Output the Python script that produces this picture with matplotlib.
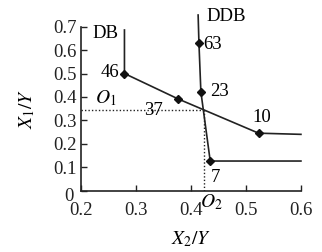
import matplotlib
matplotlib.use('Agg')
import matplotlib.pyplot as plt
from matplotlib.transforms import ScaledTranslation

plt.rcParams['font.family'] = 'Liberation Serif'
plt.rcParams['mathtext.fontset'] = 'stix'

# DB curve
db_x = [0.279, 0.279, 0.377, 0.523, 0.600]
db_y = [0.686, 0.500, 0.391, 0.245, 0.240]
db_mark_x = [0.279, 0.377, 0.523]
db_mark_y = [0.500, 0.391, 0.245]

# DDB curve
ddb_x = [0.413, 0.4145, 0.418, 0.435, 0.600]
ddb_y = [0.750, 0.629, 0.422, 0.126, 0.126]
ddb_mark_x = [0.4145, 0.418, 0.435]
ddb_mark_y = [0.629, 0.422, 0.126]

# intersection O
o_x, o_y = 0.4235, 0.342

# point labels: text, x, y, ha
labels = [('46', 0.253, 0.505, 'center'), ('37', 0.331, 0.342, 'center'),
          ('10', 0.529, 0.312, 'center'), ('63', 0.4225, 0.622, 'left'),
          ('23', 0.434, 0.424, 'left'), ('7', 0.445, 0.055, 'center'),
          ('DB', 0.245, 0.670, 'center'), ('DDB', 0.464, 0.742, 'center')]

fig = plt.figure(figsize=(3.22, 2.52), dpi=100)
ax = fig.add_axes([0.2516, 0.244, 0.683, 0.650])

ax.plot(db_x, db_y, color='#222222', lw=1.2, clip_on=False)
ax.plot(ddb_x, ddb_y, color='#222222', lw=1.2, clip_on=False)
ax.plot(db_mark_x + ddb_mark_x, db_mark_y + ddb_mark_y, 'D', color='#111111', ms=4, ls='none', clip_on=False)
ax.plot([0.2, o_x], [o_y, o_y], ls=(0, (1, 1.5)), color='#222222', lw=1.0)
ax.plot([o_x, o_x], [0, o_y], ls=(0, (1, 1.5)), color='#222222', lw=1.0)

for txt, x, y, ha in labels:
    ax.text(x, y, txt, ha=ha, va='center', fontsize=13.5, clip_on=False)
ax.text(0.245, 0.395, '$O_1$', ha='center', va='center', fontsize=14)
ax.text(0.437, -0.05, '$O_2$', ha='center', va='center', fontsize=14, clip_on=False)

ax.set_xlim(0.2, 0.6)
ax.set_ylim(0, 0.7)
ax.set_xticks([0.2, 0.3, 0.4, 0.5, 0.6])
ax.set_xticklabels(['0.2', '0.3', '0.4', '0.5', '0.6'])
ax.set_yticks([0, 0.1, 0.2, 0.3, 0.4, 0.5, 0.6, 0.7])
ax.set_yticklabels(['0', '0.1', '0.2', '0.3', '0.4', '0.5', '0.6', '0.7'])
ax.tick_params(direction='in', length=4, width=1, labelsize=13.5, colors='#222222')
ax.tick_params(axis='x', pad=8)
ax.tick_params(axis='y', pad=3)
for s in ['top', 'right']:
    ax.spines[s].set_visible(False)
for s in ['left', 'bottom']:
    ax.spines[s].set_linewidth(1.2)
    ax.spines[s].set_color('#222222')

# the "0" on the y axis sits a little low and to the left in the original
lbl0 = ax.get_yticklabels()[0]
lbl0.set_transform(lbl0.get_transform() + ScaledTranslation(-0.03, -0.04, fig.dpi_scale_trans))

ax.set_xlabel('$X_2/Y$', fontsize=14, labelpad=8)
ax.set_ylabel('$X_1/Y$', fontsize=14, labelpad=12)

fig.savefig('out.png', dpi=100)
